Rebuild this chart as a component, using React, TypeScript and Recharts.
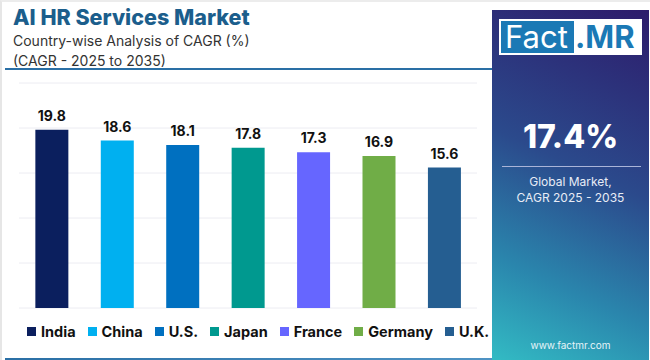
import { BarChart, Bar, XAxis, YAxis, CartesianGrid, Cell, LabelList } from 'recharts'

const countries = ['India', 'China', 'U.S.', 'Japan', 'France', 'Germany', 'U.K.']
const cagr = [19.8, 18.6, 18.1, 17.8, 17.3, 16.9, 15.6]
const barColors = ['#0b1f5e', '#00b0f0', '#0070c0', '#00998f', '#6666ff', '#70ad47', '#255e91']
const yTicks = [0, 5, 10, 15, 20, 25]

const chartData = countries.map((name, i) => ({ name, value: cagr[i] }))

const font = 'Inter, "Noto Sans", sans-serif'

function LegendRow() {
  return (
    <div style={{ display: 'flex', alignItems: 'center', fontFamily: font }}>
      {countries.map((c, i) => (
        <div key={c} style={{ display: 'flex', alignItems: 'center', marginRight: i === countries.length - 1 ? 0 : 12 }}>
          <span style={{ width: 9, height: 9, background: barColors[i], display: 'inline-block', marginRight: 5 }} />
          <span style={{ fontSize: 14.5, fontWeight: 700, color: '#111' }}>{c}</span>
        </div>
      ))}
    </div>
  )
}

export default function App() {
  return (
    <div
      style={{
        position: 'fixed',
        left: 0,
        top: 0,
        width: 650,
        height: 360,
        background: '#fff',
        overflow: 'hidden',
        fontFamily: font,
        boxSizing: 'border-box',
        borderLeft: '2px solid #e6e6e6',
        borderTop: '2px solid #ececec',
      }}
    >
      <div style={{ position: 'absolute', left: 11, top: 2, fontSize: 21.5, fontWeight: 800, color: '#1b5e8c' }}>
        AI HR Services Market
      </div>
      <div style={{ position: 'absolute', left: 11, top: 29, fontSize: 14, color: '#333', lineHeight: '20px' }}>
        Country-wise Analysis of CAGR (%)
        <br />
        (CAGR - 2025 to 2035)
      </div>
      <div style={{ position: 'absolute', left: 3, top: 66, width: 487, height: 2, background: '#2a6fa5' }} />

      <div style={{ position: 'absolute', left: -2, top: -2 }}>
        <BarChart
          width={492}
          height={360}
          data={chartData}
          margin={{ top: 83, right: 15, left: 19, bottom: 52 }}
          barCategoryGap="25%"
        >
          <CartesianGrid vertical={false} stroke="#ececf2" />
          <XAxis dataKey="name" hide />
          <YAxis hide domain={[0, 25]} ticks={yTicks} />
          <Bar dataKey="value" isAnimationActive={false}>
            {chartData.map((d, i) => (
              <Cell key={d.name} fill={barColors[i]} />
            ))}
            <LabelList dataKey="value" position="top" offset={9} style={{ fontSize: 14, fontWeight: 700, fill: '#111', fontFamily: font }} />
          </Bar>
        </BarChart>
      </div>

      <div style={{ position: 'absolute', left: 25, top: 321 }}>
        <LegendRow />
      </div>

      <div style={{ position: 'absolute', left: 3, top: 356, width: 487, height: 3, background: 'linear-gradient(90deg, #2a6fa5, #4f93c4)' }} />

      <div
        style={{
          position: 'absolute',
          left: 490,
          top: 8,
          width: 157,
          height: 352,
          background: 'linear-gradient(205deg, #2d1b6b 0%, #2b4a8c 45%, #2a86ad 75%, #33bcc4 100%)',
          color: '#fff',
          textAlign: 'center',
        }}
      >
        <div style={{ position: 'absolute', left: 7, top: 9, width: 143, height: 36, background: '#fff', display: 'flex', alignItems: 'center' }}>
          <div style={{ marginLeft: 2, width: 73, height: 32, background: '#1b79b5', color: '#fff', fontSize: 31, lineHeight: '32px', fontWeight: 400, textAlign: 'left', paddingLeft: 4, boxSizing: 'border-box' }}>
            Fact
          </div>
          <div style={{ color: '#1b79b5', fontSize: 31, fontWeight: 700, lineHeight: '32px', marginLeft: 1 }}>.MR</div>
        </div>
        <div style={{ position: 'absolute', left: 0, width: 157, top: 107, fontSize: 32, fontWeight: 800 }}>17.4%</div>
        <div style={{ position: 'absolute', left: 10, top: 156, width: 139, height: 1, background: '#aab4d8' }} />
        <div style={{ position: 'absolute', left: 0, width: 157, top: 164, fontSize: 12, lineHeight: '16px', color: '#e8ecf6' }}>
          Global Market,
          <br />
          CAGR 2025 - 2035
        </div>
        <div style={{ position: 'absolute', left: 0, width: 157, top: 329, fontSize: 10, color: '#e6f4f8' }}>www.factmr.com</div>
      </div>
    </div>
  )
}
